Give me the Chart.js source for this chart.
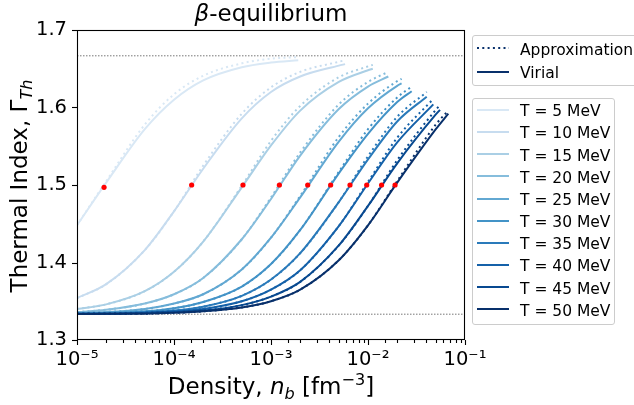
<!DOCTYPE html>
<html>
<head>
<meta charset="utf-8">
<script src="https://cdn.jsdelivr.net/npm/chart.js@4.4.1/dist/chart.umd.min.js"></script>
<style>
  html, body { margin:0; padding:0; background:#fff; overflow:hidden; }
  #wrap { position:relative; width:634px; height:405px; overflow:hidden; font-family:"DejaVu Sans", sans-serif; }
  #c { position:absolute; left:0; top:0; }
  .box { position:absolute; border:1px solid #cccccc; border-radius:3px; background:rgba(255,255,255,0.8); box-sizing:border-box; }
  .lt { position:absolute; font-size:15.5px; line-height:18px; color:#000; white-space:nowrap; }
  .lh { position:absolute; }
</style>
</head>
<body>
<div id="wrap">
  <canvas id="c" width="634" height="405"></canvas>
</div>
<script>
// ---------------- data ----------------
const temperatures = [5, 10, 15, 20, 25, 30, 35, 40, 45, 50];            // MeV
const seriesLabels = ['Approximation', 'Virial'];
const densityGrid = [1e-5, 2e-5, 5e-5, 1e-4, 2e-4, 5e-4, 1e-3, 2e-3, 5e-3, 1e-2, 2e-2, 5e-2]; // fm^-3
const endDensity  = [1.91e-3, 5.8e-3, 1.12e-2, 1.62e-2, 2.22e-2, 2.82e-2, 4.03e-2, 4.71e-2, 5.52e-2, 6.73e-2];

const approx5  = [1.448, 1.505, 1.578, 1.617, 1.641, 1.657, 1.663, 1.665];
const virial5  = [1.448, 1.503, 1.572, 1.610, 1.635, 1.652, 1.658, 1.661];
const approx10 = [1.354, 1.372, 1.416, 1.466, 1.525, 1.592, 1.626, 1.646, 1.659, 1.661];
const virial10 = [1.354, 1.372, 1.416, 1.466, 1.521, 1.586, 1.620, 1.640, 1.654, 1.656];
const approx15 = [1.340, 1.346, 1.363, 1.388, 1.427, 1.499, 1.557, 1.602, 1.639, 1.653, 1.655];
const virial15 = [1.340, 1.346, 1.363, 1.388, 1.427, 1.497, 1.551, 1.596, 1.633, 1.648, 1.650];
const approx20 = [1.336, 1.339, 1.347, 1.359, 1.380, 1.430, 1.484, 1.542, 1.604, 1.633, 1.646];
const virial20 = [1.336, 1.339, 1.347, 1.359, 1.380, 1.430, 1.482, 1.538, 1.598, 1.627, 1.640];
const approx25 = [1.335, 1.336, 1.340, 1.347, 1.359, 1.391, 1.432, 1.486, 1.562, 1.605, 1.634, 1.637];
const virial25 = [1.335, 1.336, 1.340, 1.347, 1.359, 1.391, 1.432, 1.484, 1.556, 1.599, 1.628, 1.631];
const approx30 = [1.334, 1.335, 1.337, 1.341, 1.349, 1.369, 1.398, 1.442, 1.517, 1.572, 1.613, 1.627];
const virial30 = [1.334, 1.335, 1.337, 1.341, 1.349, 1.369, 1.398, 1.442, 1.515, 1.566, 1.607, 1.621];
const approx35 = [1.334, 1.334, 1.336, 1.338, 1.343, 1.357, 1.378, 1.412, 1.478, 1.537, 1.588, 1.620];
const virial35 = [1.334, 1.334, 1.336, 1.338, 1.343, 1.357, 1.378, 1.412, 1.478, 1.533, 1.582, 1.614];
const approx40 = [1.334, 1.334, 1.335, 1.337, 1.340, 1.350, 1.365, 1.390, 1.447, 1.504, 1.561, 1.611];
const virial40 = [1.334, 1.334, 1.335, 1.337, 1.340, 1.350, 1.365, 1.390, 1.447, 1.502, 1.555, 1.604];
const approx45 = [1.334, 1.334, 1.335, 1.336, 1.338, 1.345, 1.356, 1.375, 1.422, 1.473, 1.532, 1.597, 1.603];
const virial45 = [1.334, 1.334, 1.335, 1.336, 1.338, 1.345, 1.356, 1.375, 1.422, 1.473, 1.528, 1.591, 1.597];
const approx50 = [1.3335, 1.334, 1.334, 1.335, 1.337, 1.342, 1.350, 1.365, 1.403, 1.448, 1.505, 1.578, 1.596];
const virial50 = [1.3335, 1.334, 1.334, 1.335, 1.337, 1.342, 1.350, 1.365, 1.403, 1.448, 1.503, 1.572, 1.592];

const approxSeries = [approx5, approx10, approx15, approx20, approx25, approx30, approx35, approx40, approx45, approx50];
const virialSeries = [virial5, virial10, virial15, virial20, virial25, virial30, virial35, virial40, virial45, virial50];

const dotDensity = [1.9e-5, 1.52e-4, 5.14e-4, 1.22e-3, 2.39e-3, 4.12e-3, 6.52e-3, 9.7e-3, 1.38e-2, 1.9e-2];
const dotGamma   = [1.497, 1.5, 1.5, 1.5, 1.5, 1.5, 1.5, 1.5, 1.5, 1.5];

const limitGamma = [1.6667, 1.3333];
const yTicks = [1.3, 1.4, 1.5, 1.6, 1.7];
const xRange = [1e-5, 1e-1];

const colors = ['#d9e8f5', '#c7dcef', '#aacfe5', '#86bddc', '#62a8d2', '#4393c7', '#2a7aba', '#1561a9', '#084990', '#08306b'];

// ---------------- build datasets ----------------
const FONT = '"DejaVu Sans", sans-serif';
const datasets = [];
datasets.push({
  label: 'half', data: dotDensity.map((d, i) => ({x: d, y: dotGamma[i]})),
  showLine: false, pointRadius: 2.6, pointBackgroundColor: '#ff0000', pointBorderWidth: 0, order: 0
});
temperatures.forEach((T, i) => {
  const xs = densityGrid.filter(d => d < endDensity[i]).concat([endDensity[i]]);
  datasets.push({
    label: seriesLabels[0] + ' T=' + T, data: xs.map((d, k) => ({x: d, y: approxSeries[i][k]})),
    borderColor: colors[i], borderWidth: 2, borderDash: [2, 3.3], pointRadius: 0,
    cubicInterpolationMode: 'monotone', fill: false, order: 2 * (10 - i) - 1
  });
  datasets.push({
    label: seriesLabels[1] + ' T=' + T, data: xs.map((d, k) => ({x: d, y: virialSeries[i][k]})),
    borderColor: colors[i], borderWidth: 2, pointRadius: 0,
    cubicInterpolationMode: 'monotone', fill: false, order: 2 * (10 - i)
  });
});
limitGamma.forEach(g => {
  datasets.push({
    label: 'limit', data: xRange.map(d => ({x: d, y: g})),
    borderColor: '#777777', borderWidth: 1, borderDash: [1.5, 1.5], pointRadius: 0, order: 30
  });
});

const SUP = {'-': '\u207B', '0': '\u2070', '1': '\u00B9', '2': '\u00B2', '3': '\u00B3', '4': '\u2074', '5': '\u2075', '6': '\u2076', '7': '\u2077', '8': '\u2078', '9': '\u2079'};
const isDecade = v => Math.abs(Math.log10(v) - Math.round(Math.log10(v))) < 1e-6;

function drawRich(ctx, segs, x, y, base) {
  let total = 0;
  segs.forEach(s => { ctx.font = (s.it ? 'italic ' : '') + (base * (s.sc || 1)) + 'px ' + FONT; s.w = ctx.measureText(s.t).width; total += s.w; });
  let cx = x - total / 2;
  segs.forEach(s => { ctx.font = (s.it ? 'italic ' : '') + (base * (s.sc || 1)) + 'px ' + FONT; ctx.fillText(s.t, cx, y + (s.dy || 0)); cx += s.w; });
}

const decor = {
  id: 'decor',
  afterDraw(chart) {
    const {ctx, chartArea: a, scales: {x, y}} = chart;
    ctx.save();
    ctx.strokeStyle = '#000'; ctx.lineWidth = 1.1;
    x.ticks.forEach(t => {
      const px = Math.round(x.getPixelForValue(t.value)) + 0.5;
      const len = isDecade(t.value) ? 5 : 3;
      ctx.beginPath(); ctx.moveTo(px, a.bottom); ctx.lineTo(px, a.bottom + len); ctx.stroke();
    });
    y.ticks.forEach(t => {
      const py = Math.round(y.getPixelForValue(t.value)) + 0.5;
      ctx.beginPath(); ctx.moveTo(a.left, py); ctx.lineTo(a.left - 5, py); ctx.stroke();
    });
    ctx.strokeRect(a.left + 0.5, a.top + 0.5, a.right - a.left - 1, a.bottom - a.top - 1);
    ctx.fillStyle = '#000'; ctx.textAlign = 'left'; ctx.textBaseline = 'alphabetic';
    const cx = (a.left + a.right) / 2;
    drawRich(ctx, [{t: '\u03B2', it: true}, {t: '-equilibrium'}], cx, 21, 23);
    drawRich(ctx, [{t: 'Density, '}, {t: 'n', it: true}, {t: 'b', it: true, sc: 0.7, dy: 5}, {t: ' [fm'}, {t: '\u22123', sc: 0.7, dy: -9}, {t: ']'}], cx, 393.5, 23);
    ctx.translate(26.7, (a.top + a.bottom) / 2 + 1);
    ctx.rotate(-Math.PI / 2);
    drawRich(ctx, [{t: 'Thermal Index, '}, {t: '\u0393'}, {t: 'Th', it: true, sc: 0.7, dy: 5}], 0, 0, 23);
    ctx.restore();
  }
};

new Chart(document.getElementById('c'), {
  type: 'line',
  data: {datasets},
  options: {
    responsive: false, animation: false, devicePixelRatio: 1,
    layout: {padding: {left: 0, right: 169, top: 30, bottom: 0}},
    plugins: {legend: {display: false}, tooltip: {enabled: false}, title: {display: false}},
    scales: {
      x: {
        type: 'logarithmic', min: xRange[0], max: xRange[1],
        grid: {display: true, drawOnChartArea: false, drawTicks: false},
        border: {display: false},
        afterFit: s => { s.height = 65; },
        ticks: {
          autoSkip: false, maxRotation: 0, minRotation: 0, padding: 8, color: '#000',
          font: {family: FONT, size: 19.5},
          callback: v => isDecade(v) ? '10' + String(Math.round(Math.log10(v))).split('').map(c => SUP[c]).join('') : ''
        }
      },
      y: {
        type: 'linear', min: yTicks[0], max: yTicks[yTicks.length - 1],
        grid: {display: true, drawOnChartArea: false, drawTicks: false},
        border: {display: false},
        afterFit: s => { s.width = 77; },
        afterBuildTicks: s => { s.ticks = yTicks.map(v => ({value: v})); },
        ticks: {padding: 10, color: '#000', font: {family: FONT, size: 19.5}, callback: v => Number(v).toFixed(1)}
      }
    }
  },
  plugins: [decor]
});

// ---------------- HTML legends ----------------
const wrap = document.getElementById('wrap');
function addBox(l, t, w, h) { const d = document.createElement('div'); d.className = 'box'; Object.assign(d.style, {left: l + 'px', top: t + 'px', width: w + 'px', height: h + 'px'}); wrap.appendChild(d); }
function addEntry(rowY, color, dashed, text) {
  const svg = document.createElementNS('http://www.w3.org/2000/svg', 'svg');
  svg.setAttribute('class', 'lh'); svg.setAttribute('width', '32'); svg.setAttribute('height', '6');
  svg.style.left = '477px'; svg.style.top = (rowY - 3) + 'px';
  const ln = document.createElementNS('http://www.w3.org/2000/svg', 'line');
  ln.setAttribute('x1', '0'); ln.setAttribute('x2', '32'); ln.setAttribute('y1', '3'); ln.setAttribute('y2', '3');
  ln.setAttribute('stroke', color); ln.setAttribute('stroke-width', '2');
  if (dashed) ln.setAttribute('stroke-dasharray', '2 3.3');
  svg.appendChild(ln); wrap.appendChild(svg);
  const tx = document.createElement('div'); tx.className = 'lt'; tx.textContent = text;
  tx.style.left = '520px'; tx.style.top = (rowY - 7.7) + 'px'; wrap.appendChild(tx);
}
addBox(472, 35, 175, 51);
addEntry(48.3, '#08306b', true, seriesLabels[0]);
addEntry(71.7, '#08306b', false, seriesLabels[1]);
addBox(472, 98, 143, 227);
temperatures.forEach((T, i) => addEntry(110 + 22.15 * i, colors[i], false, 'T = ' + T + ' MeV'));
</script>
</body>
</html>
